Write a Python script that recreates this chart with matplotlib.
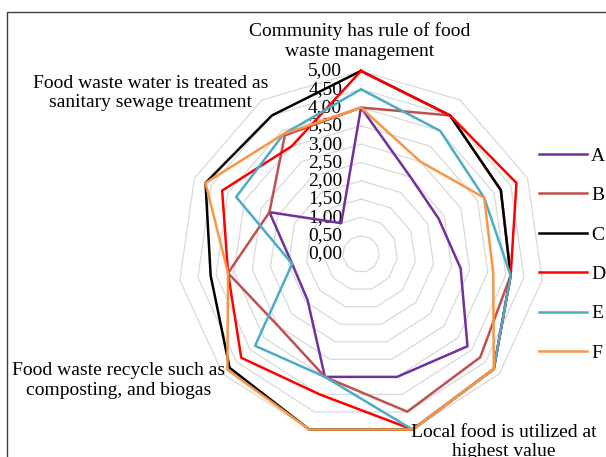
import numpy as np
import matplotlib
matplotlib.use("Agg")
import matplotlib.pyplot as plt
from matplotlib.lines import Line2D
from matplotlib.patches import Rectangle

plt.rcParams['font.family'] = ['Liberation Serif', 'DejaVu Serif']
plt.rcParams['font.size'] = 14

# 11 criteria, only some of them carry a visible label in the original
categories = [
    "Community has rule of food\nwaste management",
    "", "", "", "",
    "Local food is utilized at\nhighest value",
    "",
    "Food waste recycle such as\ncomposting, and biogas",
    "", "",
    "Food waste water is treated as\nsanitary sewage treatment",
]

series_names = ["A", "B", "C", "D", "E", "F"]
A = [4.00, 2.50, 2.33, 2.75, 3.85, 3.50, 3.50, 1.93, 1.90, 2.75, 1.00]
B = [4.00, 4.50, 4.20, 4.13, 4.31, 4.49, 3.50, 3.00, 3.67, 2.75, 3.85]
C = [5.00, 4.50, 4.20, 4.13, 4.80, 5.00, 5.00, 4.75, 4.15, 4.67, 4.50]
D = [5.00, 4.50, 4.67, 4.13, 4.80, 5.00, 4.00, 4.33, 3.67, 4.17, 3.50]
E = [4.50, 4.00, 3.70, 4.13, 4.80, 5.00, 3.50, 3.83, 1.90, 3.75, 3.90]
F = [4.00, 3.00, 3.70, 3.65, 4.80, 5.00, 5.00, 4.83, 3.67, 4.67, 3.90]
colors = ["#7030A0", "#C0504D", "#000000", "#FF0000", "#4BACC6", "#F79646"]

levels = np.arange(0.5, 5.01, 0.5)
tick_levels = np.arange(0.0, 5.01, 0.5)

n = len(categories)
theta = np.linspace(0, 2 * np.pi, n, endpoint=False)
theta_c = np.append(theta, theta[0])

fig = plt.figure(figsize=(6.06, 4.57), dpi=100)
ax = fig.add_axes([0.2937, 0.0438, 0.604, 0.8009], projection='polar')
ax.set_theta_zero_location('N')
ax.set_theta_direction(-1)
ax.set_ylim(0, 5)
ax.grid(False)
ax.set_xticks([])
ax.set_yticks([])
ax.spines['polar'].set_visible(False)
ax.patch.set_visible(False)

# polygon gridlines
for lv in levels:
    ax.plot(theta_c, np.full(n + 1, lv), color="#D9D9D9", lw=0.9, zorder=1, clip_on=False)

# radial value labels
for lv in tick_levels:
    ax.annotate(f"{lv:.2f}".replace(".", ","), xy=(0, lv), xytext=(-13.5, 0),
                textcoords='offset points', ha='right', va='center', zorder=2)

# series
all_vals = [A, B, C, D, E, F]
for name, vals, col in zip(series_names, all_vals, colors):
    v = np.append(vals, vals[0])
    ax.plot(theta_c, v, color=col, lw=1.8, zorder=3, clip_on=False, label=name)

# category labels
label_pos = {
    0: ((-1, 8), 'center', 'bottom'),
    5: ((-1, -9), 'left', 'center'),
    7: ((1.5, -5), 'right', 'center'),
    10: ((4.3, 5), 'right', 'center'),
}
for k, txt in enumerate(categories):
    if not txt:
        continue
    off, ha, va = label_pos[k]
    ax.annotate(txt, xy=(theta[k], 5.0), xytext=off, textcoords='offset points',
                ha=ha, va=va, multialignment='center', zorder=4, annotation_clip=False)

handles = [Line2D([], [], color=c, lw=1.8) for c in colors]
fig.legend(handles, series_names, loc='upper left', bbox_to_anchor=(0.889, 0.678),
           frameon=False, borderpad=0, borderaxespad=0, handlelength=2.5,
           handletextpad=0.2, labelspacing=1.12)

# chart frame (partly cut off in the original)
fig.patches.append(Rectangle((7 / 606, -0.2), 1.2, 1.2 - 12 / 457, transform=fig.transFigure,
                             fill=False, edgecolor="#404040", lw=1.0))

fig.savefig("out.png", dpi=100)
